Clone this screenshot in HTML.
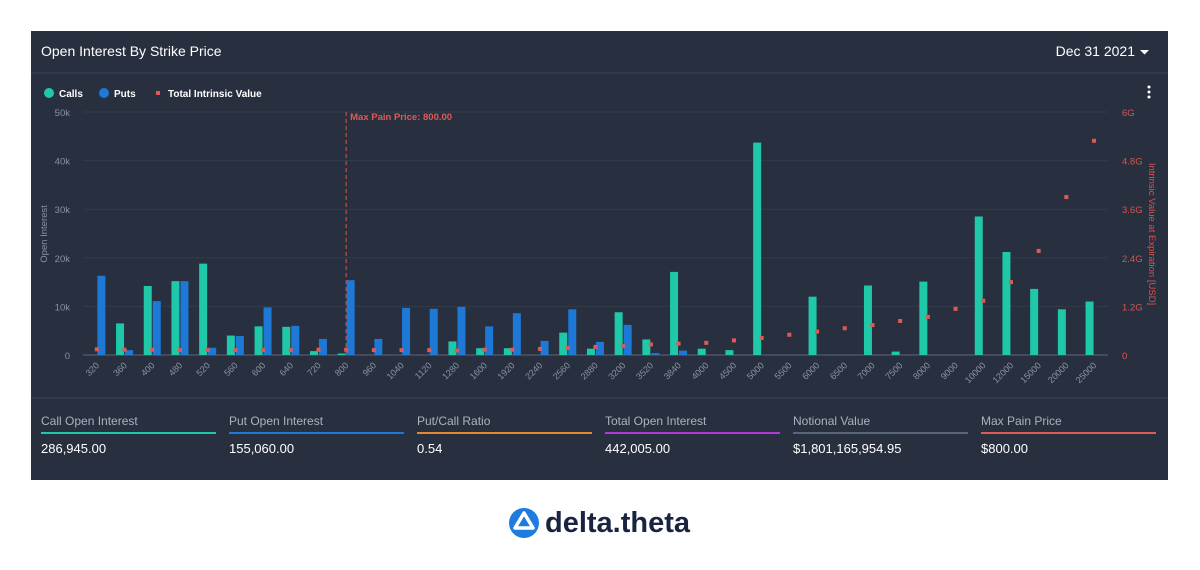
<!DOCTYPE html>
<html><head><meta charset="utf-8"><style>
body{margin:0;background:#fff;width:1200px;height:570px;overflow:hidden;font-family:"Liberation Sans",sans-serif;}
#panel{position:absolute;left:31px;top:31px;width:1137px;height:449px;background:#28303f;}
svg{position:absolute;left:0;top:0}
</style></head><body>
<div id="panel"></div>
<svg id="s" width="1200" height="570"></svg>
<script>
const categories=["320","360","400","480","520","560","600","640","720","800","960","1040","1120","1280","1600","1920","2240","2560","2880","3200","3520","3840","4000","4500","5000","5500","6000","6500","7000","7500","8000","9000","10000","12000","15000","20000","25000"];
const calls=[0,6.5,14.2,15.2,18.8,4,5.9,5.8,0.8,0.3,0,0,0,2.8,1.4,1.4,0,4.6,1.3,8.8,3.2,17.1,1.3,1.0,43.7,0,12,0,14.3,0.7,15.1,0,28.5,21.2,13.6,9.4,11];
const puts=[16.3,1,11.1,15.2,1.5,3.9,9.8,6,3.3,15.4,3.3,9.7,9.5,9.9,5.9,8.6,2.9,9.4,2.7,6.2,0.4,0.9,0,0,0,0,0,0,0,0,0,0,0,0,0,0,0];
const intrinsic=[0.14,0.13,0.13,0.12,0.12,0.12,0.12,0.12,0.13,0.13,0.12,0.12,0.12,0.11,0.13,0.13,0.15,0.17,0.2,0.22,0.26,0.28,0.3,0.36,0.42,0.5,0.58,0.66,0.74,0.84,0.94,1.14,1.34,1.8,2.57,3.9,5.29];
const leftTicks=[0,10,20,30,40,50];
const rightTicks=[0,1.2,2.4,3.6,4.8,6];
const rightLabels=["0","1.2G","2.4G","3.6G","4.8G","6G"];
const stats=[["Call Open Interest","286,945.00","#1ec8a8"],["Put Open Interest","155,060.00","#1e78d6"],["Put/Call Ratio","0.54","#e2892f"],["Total Open Interest","442,005.00","#b13ad6"],["Notional Value","$1,801,165,954.95","#5b6578"],["Max Pain Price","$800.00","#e05a55"]];

const s=document.getElementById('s');const NS="http://www.w3.org/2000/svg";
function el(t,a,txt){const e=document.createElementNS(NS,t);for(const k in a)e.setAttribute(k,a[k]);if(txt!==undefined)e.textContent=txt;s.appendChild(e);return e;}
const x0=83,step=27.7,y0=355,yTop=112;
const xc=i=>x0+step*(i+0.5);
const yL=v=>y0-(v/50)*(y0-yTop);
const yR=v=>y0-(v/6)*(y0-yTop);

let e;
e=el('line',{x1:31,y1:73,x2:1168,y2:73,stroke:'#3a4354'});

e=el('text',{x:41,y:56,fill:'#fff','font-size':14},'Open Interest By Strike Price');

e=el('text',{x:1135,y:56,fill:'#fff','font-size':14,'text-anchor':'end'},'Dec 31 2021');

e=el('path',{d:'M1140 50 l9 0 l-4.5 4.5 z',fill:'#fff'});

// legend
e=el('circle',{cx:49,cy:93,r:5,fill:'#1ec8a8'});
e=el('text',{x:59,y:97,fill:'#fff','font-size':10,'font-weight':'bold'},'Calls');
e=el('circle',{cx:104,cy:93,r:5,fill:'#1e78d6'});
e=el('text',{x:114,y:97,fill:'#fff','font-size':10,'font-weight':'bold'},'Puts');
e=el('rect',{x:156,y:91,width:4,height:4,fill:'#e05a55'});
e=el('text',{x:168,y:97,fill:'#fff','font-size':10,'font-weight':'bold'},'Total Intrinsic Value');
for(let k=0;k<3;k++){e=el('circle',{cx:1149,cy:87+k*5,r:1.5,fill:'#fff'});}
leftTicks.forEach((t,i)=>{
 e=el('line',{x1:x0,x2:1108,y1:yL(t),y2:yL(t),stroke:i==0?'#5b6578':'#323b4b'});
 e=el('text',{x:70,y:yL(t)+4,fill:'#8a93a3','font-size':9.5,'text-anchor':'end'},t==0?'0':t+'k');
});
rightTicks.forEach((t,i)=>{
 e=el('text',{x:1122,y:yR(t)+4,fill:'#d9534f','font-size':9.5},rightLabels[i]);
});
e=el('text',{x:0,y:0,fill:'#8a93a3','font-size':9.5,'text-anchor':'middle',transform:'translate(47,234) rotate(-90)'},'Open Interest');

e=el('text',{x:0,y:0,fill:'#d9534f','font-size':9.5,'text-anchor':'middle',transform:'translate(1149,234) rotate(90)'},'Intrinsic Value at Expiration [USD]');

categories.forEach((c,i)=>{
 const cx=xc(i);
 if(calls[i]>0){e=el('rect',{x:cx-8.5,y:yL(calls[i]),width:8,height:y0-yL(calls[i]),fill:'#1ec8a8'});}
 if(puts[i]>0){e=el('rect',{x:cx+0.5,y:yL(puts[i]),width:8,height:y0-yL(puts[i]),fill:'#1e78d6'});}
 e=el('text',{x:0,y:0,fill:'#8a93a3','font-size':9,'text-anchor':'end',transform:`translate(${cx+3},${366}) rotate(-45)`},c);
 
});
categories.forEach((c,i)=>{
 e=el('rect',{x:xc(i)-2,y:yR(intrinsic[i])-2,width:4,height:4,fill:'#e05a55'});
});
const mp=xc(categories.indexOf("800"));
e=el('line',{x1:mp,x2:mp,y1:yTop,y2:y0,stroke:'#d9534f','stroke-dasharray':'4,3','stroke-width':1});
e=el('text',{x:mp+4,y:120,fill:'#e05a55','font-size':9.5,'font-weight':'bold'},'Max Pain Price: 800.00');
e=el('line',{x1:31,y1:398,x2:1168,y2:398,stroke:'#3a4354'});
stats.forEach((st,i)=>{
 const x=41+i*188;
 e=el('text',{x:x,y:425,fill:'#aab2c0','font-size':12},st[0]);
 e=el('rect',{x:x,y:432,width:175,height:2,fill:st[2]});
 e=el('text',{x:x,y:453,fill:'#fff','font-size':13},st[1]);
});
e=el('circle',{cx:524,cy:523,r:15,fill:'#1e7be0'});
e=el('path',{d:'M524 513 l9 15 h-18 z',fill:'none',stroke:'#fff','stroke-width':3.5,'stroke-linejoin':'round'});
e=el('text',{x:545,y:532,fill:'#1a2440','font-size':29,'font-weight':'bold'},'delta.theta');
</script>
</body></html>
